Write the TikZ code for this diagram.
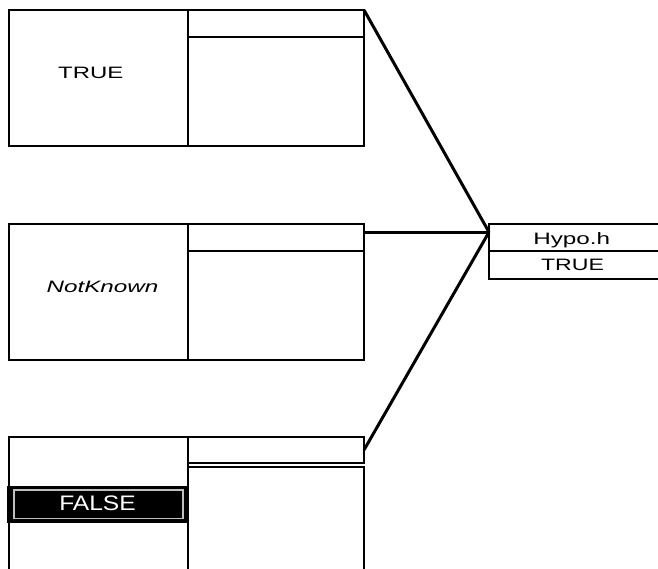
\documentclass[tikz,border=0pt]{standalone}
\usepackage{fontspec}
\setmainfont{Liberation Sans}
\usetikzlibrary{calc}
\newcommand{\wideTxt}[2]{\scalebox{#1}[1]{#2}}
\begin{document}
\begin{tikzpicture}[x=1pt,y=-1pt,
  box/.style={draw, line width=2.4pt, rectangle, inner sep=0pt, outer sep=0pt},
  lbl/.style={inner sep=0pt, anchor=base, font=\fontsize{16.5}{18}\selectfont},
  wire/.style={line width=3pt}]
\useasboundingbox (0,0) rectangle (658,569);
\clip (0,0) rectangle (658,569);
% top group
\node[box, minimum width=179pt, minimum height=136pt] (tl) at (98.5,78) {};
\node[box, minimum width=176pt, minimum height=27pt] (th) at (276,23.5) {};
\node[box, minimum width=176pt, minimum height=109pt] (tb) at (276,91.5) {};
\node[lbl] (ttrue) at (90.8,78.3) {\wideTxt{1.45}{TRUE}};
% middle group
\node[box, minimum width=179pt, minimum height=136pt] (ml) at (98.5,292) {};
\node[box, minimum width=176pt, minimum height=27pt] (mh) at (276,237.5) {};
\node[box, minimum width=176pt, minimum height=109pt] (mb) at (276,305.5) {};
\node[lbl] (mnk) at (102.5,292.7) {\wideTxt{1.47}{\itshape NotKnown}};
% bottom group
\node[box, minimum width=179pt, minimum height=183pt] (bl) at (98.5,528.5) {};
\node[box, minimum width=176pt, minimum height=26pt] (bh) at (276,450) {};
\node[box, minimum width=176pt, minimum height=153pt] (bb) at (276,543.5) {};
\node[fill=black, minimum width=181pt, minimum height=37.5pt, inner sep=0pt] (fbar) at (97.5,504.25) {};
\node[draw=gray!50, line width=1.4pt, minimum width=169pt, minimum height=28.5pt, inner sep=0pt] (fin) at (98.5,504.25) {};
\node[lbl, text=white, font=\fontsize{21}{24}\selectfont] (ffalse) at (97.5,510) {\wideTxt{1.17}{FALSE}};
% hypothesis box
\node[box, minimum width=231pt, minimum height=27pt] (hy) at (604.5,237.5) {};
\node[box, minimum width=231pt, minimum height=28pt] (hv) at (604.5,265) {};
\node[lbl] (hyname) at (571.7,245) {\wideTxt{1.47}{Hypo.h}};
\node[lbl] (hyval) at (572.5,270) {\wideTxt{1.40}{TRUE}};
\coordinate (hp) at ($(hy.north west)!0.3!(hy.south west)$);
% connectors
\draw[wire] (th.north east) -- (hp);
\draw[wire] ($(mh.north east)!0.3!(mh.south east)$) -- (hp);
\draw[wire] (bh.east) -- (hp);
\end{tikzpicture}
\end{document}
